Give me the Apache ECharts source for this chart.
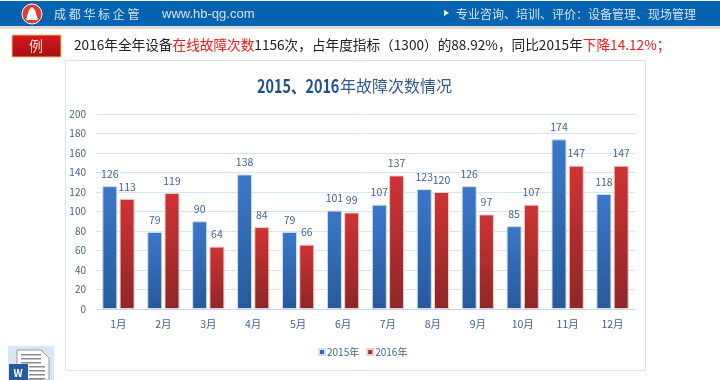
<!DOCTYPE html>
<html><head><meta charset="utf-8">
<style>html,body{margin:0;padding:0;background:#fff}#c{width:720px;height:380px}</style>
<script src="https://cdn.jsdelivr.net/npm/echarts@6/dist/echarts.min.js"></script>
</head><body><div id="c"></div>
<script>
const months = ['1月','2月','3月','4月','5月','6月','7月','8月','9月','10月','11月','12月'];
const values2015 = [126,79,90,138,79,101,107,123,126,85,174,118];
const values2016 = [113,119,64,84,66,99,137,120,97,107,147,147];
const yTicks = {min:0,max:200,interval:20};
const titleDigits = '2015、2016';
const titleRest = '年故障次数情况';
const F = '"Noto Sans CJK SC","Noto Sans",sans-serif';
const grad = (a,b)=>new echarts.graphic.LinearGradient(0,0,0,1,[{offset:0,color:a},{offset:1,color:b}]);
const lbl = {show:true,position:'top',distance:7,color:'#44638f',fontSize:10.5,fontFamily:F};
const chart = echarts.init(document.getElementById('c'),null,{renderer:'canvas'});
const T=(x,y,t,s,fill,extra)=>({type:'text',x,y,silent:true,style:Object.assign({text:t,font:s+'px '+F,fill,textVerticalAlign:'middle'},extra||{})});
const docLines=[354,358,362,366,370,374,378].map(y=>({type:'rect',shape:{x:y<364?21:29,y,width:y<364?20:16,height:1.5},style:{fill:'#8a8a8a'},silent:true}));
chart.setOption({
  animation:false,
  backgroundColor:'#fff',
  legend:{bottom:18,left:313,itemWidth:6,itemHeight:6,itemGap:7,icon:'rect',textStyle:{color:'#44638f',fontSize:10,fontFamily:F,padding:[0,0,0,-3]}},
  grid:{left:96,right:85,top:114,bottom:71},
  xAxis:{type:'category',data:months,axisLine:{lineStyle:{color:'#c5d5ea'}},axisTick:{show:false},axisLabel:{color:'#44638f',fontSize:10.5,margin:10,fontFamily:F}},
  yAxis:{type:'value',min:yTicks.min,max:yTicks.max,interval:yTicks.interval,axisLine:{show:false},axisTick:{show:false},axisLabel:{color:'#44638f',fontSize:10,margin:10,fontFamily:F},splitLine:{lineStyle:{color:'#d6e5f4',type:'solid'}}},
  series:[
    {name:'2015年',type:'bar',data:values2015,barWidth:15,barGap:'15%',itemStyle:{color:grad('#3a78c8','#265a9c'),borderColor:'#d3dcea',borderWidth:1},label:lbl},
    {name:'2016年',type:'bar',data:values2016,barWidth:15,itemStyle:{color:grad('#cf3333','#8f2626'),borderColor:'#e6d0d0',borderWidth:1},label:lbl}
  ],
  graphic:[
    {type:'rect',shape:{x:0,y:1,width:720,height:25},style:{fill:'#0563b0'},silent:true},
    {type:'rect',shape:{x:0,y:26,width:720,height:3},style:{fill:'#dcdcdc'},silent:true},
    {type:'circle',shape:{cx:32,cy:14,r:10},style:{fill:'#e23b34',stroke:'#fff',lineWidth:1},silent:true},
    {type:'polygon',shape:{points:[[26,20],[29,10],[32,7],[35,10],[38,20]]},style:{fill:'#fff'},silent:true},
    T(54,14,'成 都 华 标 企 管',12,'#d5e3f2'),
    T(162,14,'www.hb-qg.com',13,'#d5e3f2',{font:'13px "Liberation Sans",sans-serif'}),
    {type:'polygon',shape:{points:[[444,10],[449,13],[444,16]]},style:{fill:'#fff'},silent:true},
    T(456,14,'专业咨询、培训、评价：设备管理、现场管理',12,'#d5e3f2'),
    {type:'rect',shape:{x:12,y:35,width:49,height:22},style:{fill:grad('#d8171d','#a80d12'),stroke:'#e8c46a',lineWidth:1},silent:true},
    T(36,46,'例',14,'#fbe3d8',{textAlign:'center'}),
    {type:'text',x:74,y:45,silent:true,style:{
      text:'{b|2016年全年设备}{r|在线故障次数}{b|1156次，占年度指标（1300）的88.92%，同比2015年}{r|下降14.12%；}',
      textVerticalAlign:'middle',
      rich:{b:{font:'13.65px '+F,fill:'#222'},r:{font:'13.65px '+F,fill:'#f01818'}}}},
    {type:'rect',z:-1,shape:{x:65.5,y:60.5,width:580,height:310},style:{fill:'#fff',stroke:'#d6e4f2',lineWidth:1},silent:true},
    Object.assign(T(257,86,titleDigits,18,'#24508a',{font:'bold 18px '+F}),{scaleX:0.8}),
    T(340,86,titleRest,16,'#335a8e'),
    {type:'rect',shape:{x:8,y:346,width:46,height:34},style:{fill:'#d8e6f6'},silent:true},
    {type:'polygon',shape:{points:[[17,350],[41,350],[49,358],[49,380],[17,380]]},style:{fill:'#fff',stroke:'#999'},silent:true},
    ...docLines,
    {type:'rect',shape:{x:9,y:364,width:19,height:16},style:{fill:'#245a9e'},silent:true},
    T(18,373,'W',10,'#fff',{textAlign:'center',font:'bold 10px '+F})
  ]
});
</script></body></html>
